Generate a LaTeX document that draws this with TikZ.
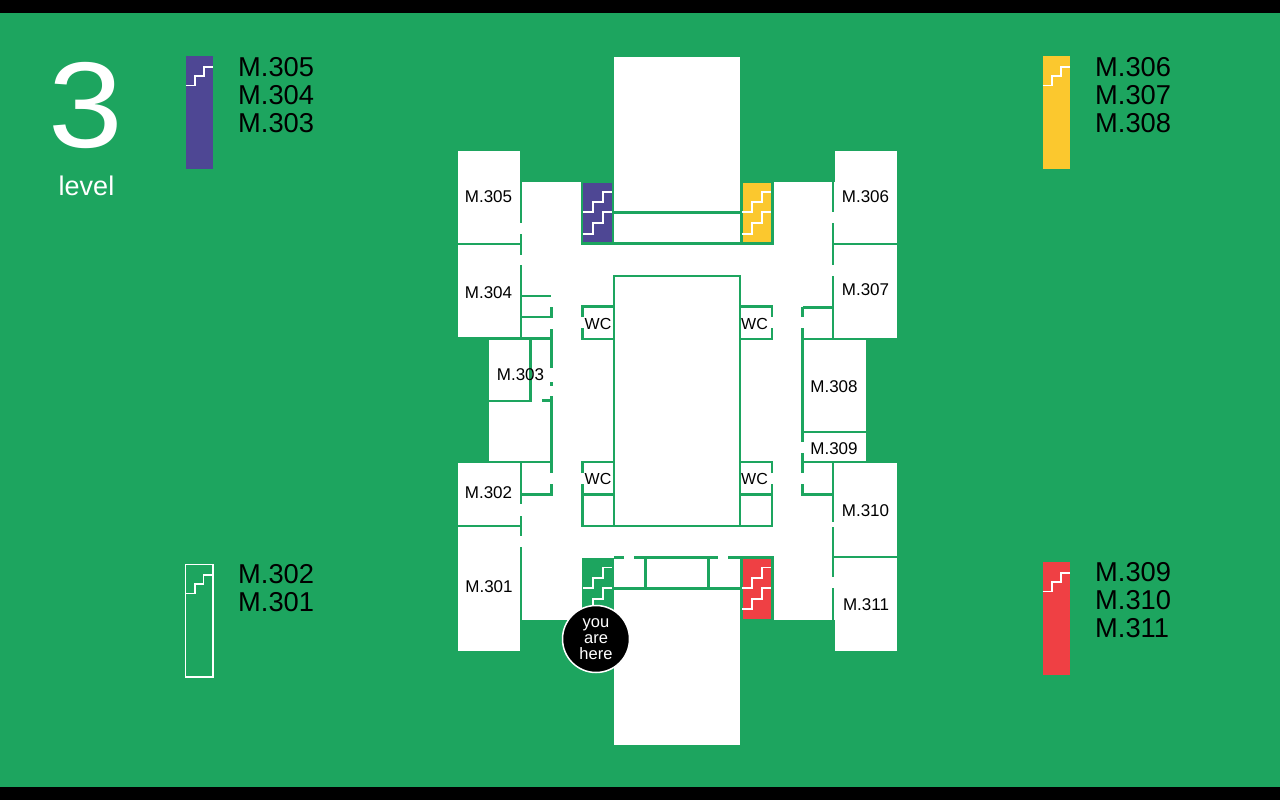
\documentclass[tikz,border=0pt]{standalone}
\usepackage{fontspec}
\setmainfont{Liberation Sans}
\definecolor{bggreen}{RGB}{29,165,95}
\definecolor{stairpurple}{RGB}{78,71,148}
\definecolor{stairyellow}{RGB}{251,200,46}
\definecolor{stairred}{RGB}{239,64,68}
\tikzset{
  wall/.style={draw=bggreen,line width=2.4pt},
  step line/.style={draw=white,line width=1.9pt},
  legend step/.style={draw=white,line width=1.6pt},
  room/.style={fill=white},
  roomlabel/.style={text=black,font=\fontsize{17}{17}\selectfont,inner sep=0pt},
  wclabel/.style={text=black,font=\fontsize{16}{16}\selectfont,inner sep=0pt},
  legendlabel/.style={text=black,anchor=west,inner sep=0pt,font=\fontsize{27.3}{27.3}\selectfont},
}
\newcommand{\twoflights}[1]{%
  \draw[step line] (#1+583,212.3) -- (#1+592.7,212.3) -- (#1+592.7,202) -- (#1+602.7,202) -- (#1+602.7,191.7) -- (#1+612,191.7);
  \draw[step line] (#1+583,233.7) -- (#1+592.7,233.7) -- (#1+592.7,223.3) -- (#1+602.7,223.3) -- (#1+602.7,212.3) -- (#1+612,212.3);
}
\newcommand{\twoflightslow}[1]{%
  \draw[step line] (#1+583,588.3) -- (#1+592.7,588.3) -- (#1+592.7,578.3) -- (#1+602.7,578.3) -- (#1+602.7,567.5) -- (#1+612,567.5);
  \draw[step line] (#1+583,609.3) -- (#1+592.7,609.3) -- (#1+592.7,599) -- (#1+602.7,599) -- (#1+602.7,588.3) -- (#1+612,588.3);
}
\newcommand{\legendstep}[2]{%
  \draw[legend step] (#1,#2+29.4) -- (#1+9.5,#2+29.4) -- (#1+9.5,#2+20) -- (#1+18,#2+20) -- (#1+18,#2+10.8) -- (#1+27.5,#2+10.8);
}
\begin{document}
\begin{tikzpicture}[x=1pt,y=-1pt]
\useasboundingbox (0,0) rectangle (1280,800);
\fill[bggreen] (0,0) rectangle (1280,800);
\fill[black] (0,0) rectangle (1280,13);
\fill[black] (0,787) rectangle (1280,800);
% white floor areas
\fill[room] (519.5,181.5) rectangle (835,620);
\fill[room] (614,57) rectangle (740,212);
\fill[room] (614,589) rectangle (740,745);
\fill[bggreen] (581.5,558) rectangle (614,622);
\fill[room] (457.5,151) rectangle (520,243);
\fill[room] (457.5,245) rectangle (520,338);
\fill[room] (488.7,339) rectangle (552,462);
\fill[room] (457.5,463) rectangle (520,525);
\fill[room] (457.5,527) rectangle (520,651);
\fill[room] (834.5,151) rectangle (897,243);
\fill[room] (834.5,245) rectangle (897,338);
\fill[room] (803,340) rectangle (866,462);
\fill[room] (834.5,463) rectangle (897,556);
\fill[room] (834.5,558) rectangle (897,651);
% left walls
\draw[wall] (521,181.5) -- (521,223);
\draw[wall] (521,234) -- (521,255);
\draw[wall] (521,265) -- (521,338.5);
\draw[wall] (457,244) -- (521,244);
\draw[wall] (521,296) -- (551,296);
\draw[wall] (521,317) -- (551.5,317) -- (551.5,306.5);
\draw[wall] (457,338.5) -- (552.5,338.5);
\draw[wall] (551.5,329) -- (551.5,368);
\draw[wall] (551.5,382) -- (551.5,386);
\draw[wall] (551.5,396) -- (551.5,473);
\draw[wall] (551.5,484) -- (551.5,495.7);
\draw[wall] (530.5,339) -- (530.5,401) -- (489,401);
\draw[wall] (542,400.5) -- (551.5,400.5);
\draw[wall] (457,462) -- (552.5,462);
\draw[wall] (521,462) -- (521,504);
\draw[wall] (521,516) -- (521,536);
\draw[wall] (521,547) -- (521,620);
\draw[wall] (521,494.5) -- (552.5,494.5);
\draw[wall] (457,526) -- (521,526);
% centre
\draw[wall] (614,526) rectangle (740,276);
\draw[wall] (582.5,316.5) -- (582.5,306.5) -- (614,306.5);
\draw[wall] (582.5,328) -- (582.5,339) -- (614,339);
\draw[wall] (582.5,473) -- (582.5,462) -- (614,462);
\draw[wall] (582.5,484) -- (582.5,526) -- (614,526);
\draw[wall] (582.5,494.5) -- (614,494.5);
\draw[wall] (771.7,316.5) -- (771.7,306.5) -- (740,306.5);
\draw[wall] (771.7,328) -- (771.7,339) -- (740,339);
\draw[wall] (771.7,473) -- (771.7,462) -- (740,462);
\draw[wall] (771.7,484) -- (771.7,526) -- (740,526);
\draw[wall] (771.7,494.5) -- (740,494.5);
% top corridor
\draw[wall] (614,212.5) -- (741,212.5);
\draw[wall] (614,243.5) -- (741,243.5);
% bottom corridor
\draw[wall] (614,557.5) -- (623.5,557.5);
\draw[wall] (634,557.5) -- (717.7,557.5);
\draw[wall] (728,557.5) -- (742,557.5);
\draw[wall] (614,588.5) -- (742,588.5);
\draw[wall] (645.5,557.5) -- (645.5,588.5);
\draw[wall] (708.5,557.5) -- (708.5,588.5);
% right walls
\draw[wall] (833,181.5) -- (833,212);
\draw[wall] (833,223) -- (833,265);
\draw[wall] (833,276) -- (833,339);
\draw[wall] (833,244) -- (897.5,244);
\draw[wall] (802.5,307.5) -- (833,307.5);
\draw[wall] (802.5,306.5) -- (802.5,317);
\draw[wall] (802.5,328) -- (802.5,442);
\draw[wall] (802.5,453) -- (802.5,473);
\draw[wall] (802.5,484) -- (802.5,494.5) -- (833,494.5);
\draw[wall] (801.5,339) -- (897.5,339);
\draw[wall] (802.5,431.7) -- (866,431.7);
\draw[wall] (801.5,462) -- (897.5,462);
\draw[wall] (833,462) -- (833,522);
\draw[wall] (833,527) -- (833,577);
\draw[wall] (833,588) -- (833,620);
\draw[wall] (833,557) -- (897.5,557);
% stairs
\fill[stairpurple,draw=bggreen,line width=2.2pt] (582,181.5) rectangle (613,243.5);
\twoflights{0}
\fill[stairyellow,draw=bggreen,line width=2.2pt] (741.5,181.5) rectangle (772.5,243.5);
\twoflights{159.4}
\fill[stairred,draw=bggreen,line width=2.2pt] (741.5,557.5) rectangle (772.5,620);
\twoflightslow{159.4}
\twoflightslow{0}
% you are here
\node[circle,fill=black,draw=white,line width=1.5pt,minimum size=67pt,inner sep=0pt,align=center,text=white,font=\fontsize{16.5}{16}\selectfont] (here) at (596,639) {\raisebox{-1pt}{you}\\\raisebox{-1pt}{are}\\\raisebox{-1pt}{here}};
% room labels
\node[roomlabel] (m305) at (488.5,197) {M.305};
\node[roomlabel] (m304) at (488.5,293) {M.304};
\node[roomlabel] (m303) at (520.5,375) {M.303};
\node[roomlabel] (m302) at (488.5,492.5) {M.302};
\node[roomlabel] (m301) at (489,587) {M.301};
\node[roomlabel] (m306) at (865.5,197) {M.306};
\node[roomlabel] (m307) at (865.5,290) {M.307};
\node[roomlabel] (m308) at (834,387) {M.308};
\node[roomlabel] (m309) at (834,449) {M.309};
\node[roomlabel] (m310) at (865.5,511) {M.310};
\node[roomlabel] (m311) at (866,605) {M.311};
\node[wclabel] (wc1) at (598,323.5) {WC};
\node[wclabel] (wc2) at (754.5,323.5) {WC};
\node[wclabel] (wc3) at (598,479) {WC};
\node[wclabel] (wc4) at (754.5,479) {WC};
% level
\node[text=white,inner sep=0pt,font=\fontsize{122}{122}\selectfont,xscale=1.1,transform shape] (levelnum) at (86,106) {3};
\node[text=white,inner sep=0pt,font=\fontsize{27}{27}\selectfont] (levelword) at (86.5,185.5) {level};
% legend
\fill[stairpurple] (185.7,56.3) rectangle (213,169.3);
\legendstep{185.7}{56.3}
\fill[stairyellow] (1042.7,56.3) rectangle (1070,169.3);
\legendstep{1042.7}{56.3}
\draw[white,line width=1.4pt] (185.5,564.5) rectangle (213,677);
\legendstep{185.5}{564}
\fill[stairred] (1042.7,562) rectangle (1070,675);
\legendstep{1042.7}{562}
\node[legendlabel] (l305) at (238,67) {M.305};
\node[legendlabel] (l304) at (238,95) {M.304};
\node[legendlabel] (l303) at (238,123) {M.303};
\node[legendlabel] (l302) at (238,574) {M.302};
\node[legendlabel] (l301) at (238,602) {M.301};
\node[legendlabel] (l306) at (1095,67) {M.306};
\node[legendlabel] (l307) at (1095,95) {M.307};
\node[legendlabel] (l308) at (1095,123) {M.308};
\node[legendlabel] (l309) at (1095,572) {M.309};
\node[legendlabel] (l310) at (1095,600) {M.310};
\node[legendlabel] (l311) at (1095,628) {M.311};
\end{tikzpicture}
\end{document}
